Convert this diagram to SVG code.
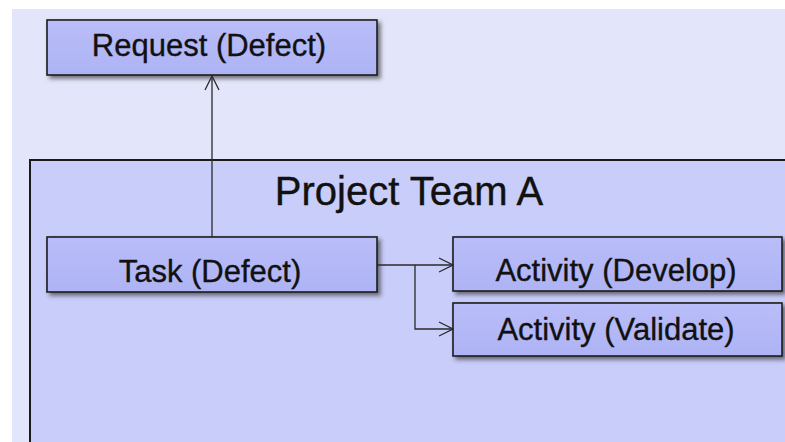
<svg xmlns="http://www.w3.org/2000/svg" width="785" height="442" viewBox="0 0 785 442">
  <style>
    .box { fill: url(#boxGrad); stroke: #1c1c1c; stroke-width: 1.6; filter: url(#shadow); }
    .label { font-family: "Liberation Sans", Arial, sans-serif; font-size: 31px; fill: #111111; stroke: #111111; stroke-width: 0.35; text-anchor: middle; }
    .title { font-family: "Liberation Sans", Arial, sans-serif; font-size: 40px; fill: #111111; stroke: #111111; stroke-width: 0.4; text-anchor: middle; }
    .conn { fill: none; stroke: #2a2a2a; stroke-width: 1.3; }
  </style>
  <defs>
    <linearGradient id="boxGrad" x1="0" y1="0" x2="0" y2="1">
      <stop offset="0" stop-color="#b9bdf8"/>
      <stop offset="1" stop-color="#aeb3f5"/>
    </linearGradient>
    <filter id="shadow" x="-5%" y="-10%" width="115%" height="140%">
      <feDropShadow dx="3" dy="3" stdDeviation="2" flood-color="#303030" flood-opacity="0.65"/>
    </filter>
    <marker id="open" viewBox="0 0 16 16" refX="15" refY="8" markerWidth="16" markerHeight="16" markerUnits="userSpaceOnUse" orient="auto">
      <path d="M1,1 L15,8 L1,15" fill="none" stroke="#2a2a2a" stroke-width="1.3"/>
    </marker>
  </defs>

  <rect x="0" y="0" width="785" height="442" fill="#ffffff"/>
  <rect x="12" y="9" width="780" height="440" fill="#e3e5fa"/>

  <g id="team">
    <rect x="30" y="160" width="800" height="300" fill="#c9cdf9" stroke="#1a1a1a" stroke-width="2"/>
    <text class="title" x="409" y="205">Project Team A</text>
  </g>

  <g id="request">
    <rect class="box" x="47" y="20" width="330" height="55"/>
    <text class="label" x="209" y="56">Request (Defect)</text>
  </g>

  <g id="task">
    <rect class="box" x="47" y="237" width="330" height="55"/>
    <text class="label" x="210" y="282">Task (Defect)</text>
  </g>

  <g id="develop">
    <rect class="box" x="453" y="237" width="329" height="54"/>
    <text class="label" x="616" y="281">Activity (Develop)</text>
  </g>

  <g id="validate">
    <rect class="box" x="453" y="303" width="329" height="53"/>
    <text class="label" x="616" y="340">Activity (Validate)</text>
  </g>

  <g id="connectors">
    <path class="conn" d="M212,237 L212,76" marker-end="url(#open)"/>
    <path class="conn" d="M377,265 L453,265" marker-end="url(#open)"/>
    <path class="conn" d="M415,265 L415,329 L453,329" marker-end="url(#open)"/>
  </g>
</svg>
